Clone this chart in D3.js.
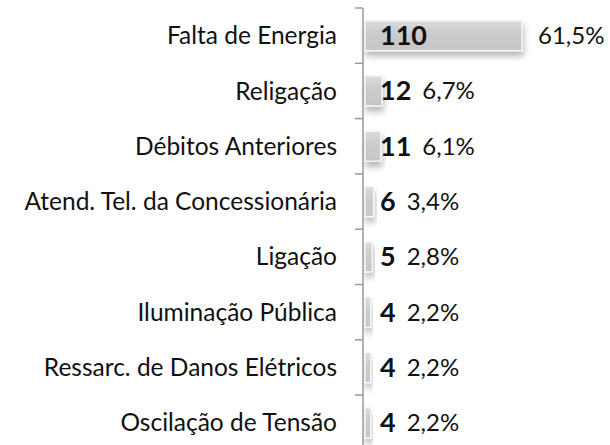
<!DOCTYPE html>
<html>
<head>
<meta charset="utf-8">
<script src="https://cdn.jsdelivr.net/npm/d3@7"></script>
<style>
  html, body { margin: 0; padding: 0; background: #fff; }
  svg { display: block; font-family: Lato, "Open Sans", sans-serif; }
</style>
</head>
<body>
<div id="chart"></div>
<script>
// categories, top to bottom
const categories = [
    "Falta de Energia",
    "Religação",
    "Débitos Anteriores",
    "Atend. Tel. da Concessionária",
    "Ligação",
    "Iluminação Pública",
    "Ressarc. de Danos Elétricos",
    "Oscilação de Tensão"
];
const counts = [110, 12, 11, 6, 5, 4, 4, 4];
const percents = [61.5, 6.7, 6.1, 3.4, 2.8, 2.2, 2.2, 2.2];

const width = 610, height = 445;
const axisX = 363;

const svg = d3.select("#chart")
    .append("svg")
    .attr("width", width)
    .attr("height", height);

const defs = svg.append("defs");
const grad = defs.append("linearGradient")
    .attr("id", "barGrad")
    .attr("x1", 0).attr("y1", 0).attr("x2", 0).attr("y2", 1);
grad.append("stop").attr("offset", "0%").attr("stop-color", "#dcdcdc");
grad.append("stop").attr("offset", "45%").attr("stop-color", "#cbcbcb");
grad.append("stop").attr("offset", "100%").attr("stop-color", "#c6c6c6");

const shadow = defs.append("filter")
    .attr("id", "shadow")
    .attr("x", "-20%").attr("y", "-30%")
    .attr("width", "150%").attr("height", "180%");
shadow.append("feDropShadow")
    .attr("dx", 1).attr("dy", 5)
    .attr("stdDeviation", 3)
    .attr("flood-color", "#000")
    .attr("flood-opacity", 0.28);

const y = d3.scaleBand()
    .domain(categories)
    .range([8, 8 + 55.3 * categories.length])
    .padding(0);

const x = d3.scaleLinear()
    .domain([0, 110])
    .range([axisX + 2, axisX + 159]);

const barH = 30;

// bars
svg.append("g").selectAll("rect")
    .data(categories)
    .join("rect")
    .attr("x", x(0))
    .attr("y", d => y(d) + y.bandwidth() / 2 - barH / 2)
    .attr("width", (d, i) => x(counts[i]) - x(0))
    .attr("height", barH)
    .attr("fill", "url(#barGrad)")
    .attr("stroke", "#f4f4f4")
    .attr("stroke-width", 1.5)
    .attr("filter", "url(#shadow)");

// axis line + boundary ticks
const axisG = svg.append("g").attr("stroke", "#9a9a9a").attr("stroke-width", 1.5);
axisG.append("line")
    .attr("x1", axisX).attr("x2", axisX)
    .attr("y1", y.range()[0]).attr("y2", y.range()[1]);
axisG.selectAll(".tick")
    .data(categories)
    .join("line")
    .attr("class", "tick")
    .attr("x1", axisX - 8).attr("x2", axisX)
    .attr("y1", d => y(d)).attr("y2", d => y(d));

// category labels
svg.append("g").selectAll("text")
    .data(categories)
    .join("text")
    .attr("x", 337)
    .attr("y", d => y(d) + y.bandwidth() / 2)
    .attr("dy", "0.35em")
    .attr("text-anchor", "end")
    .attr("font-size", 24.5)
    .attr("fill", "#111")
    .text(d => d);

// value labels
const fmt = v => d3.format(".1f")(v).replace(".", ",") + "%";
const labels = svg.append("g");
categories.forEach((c, i) => {
    const cy = y(c) + y.bandwidth() / 2;
    const bold = labels.append("text")
        .attr("x", axisX + 17)
        .attr("y", cy)
        .attr("dy", "0.35em")
        .attr("font-size", 27)
        .attr("font-weight", "bold")
        .attr("fill", "#111")
        .text(counts[i]);
    const boldEnd = axisX + 17 + bold.node().getComputedTextLength();
    labels.append("text")
        .attr("x", Math.max(x(counts[i]) + 16, boldEnd + 11))
        .attr("y", cy)
        .attr("dy", "0.35em")
        .attr("font-size", 24)
        .attr("fill", "#111")
        .text(fmt(percents[i]));
});
</script>
</body>
</html>
